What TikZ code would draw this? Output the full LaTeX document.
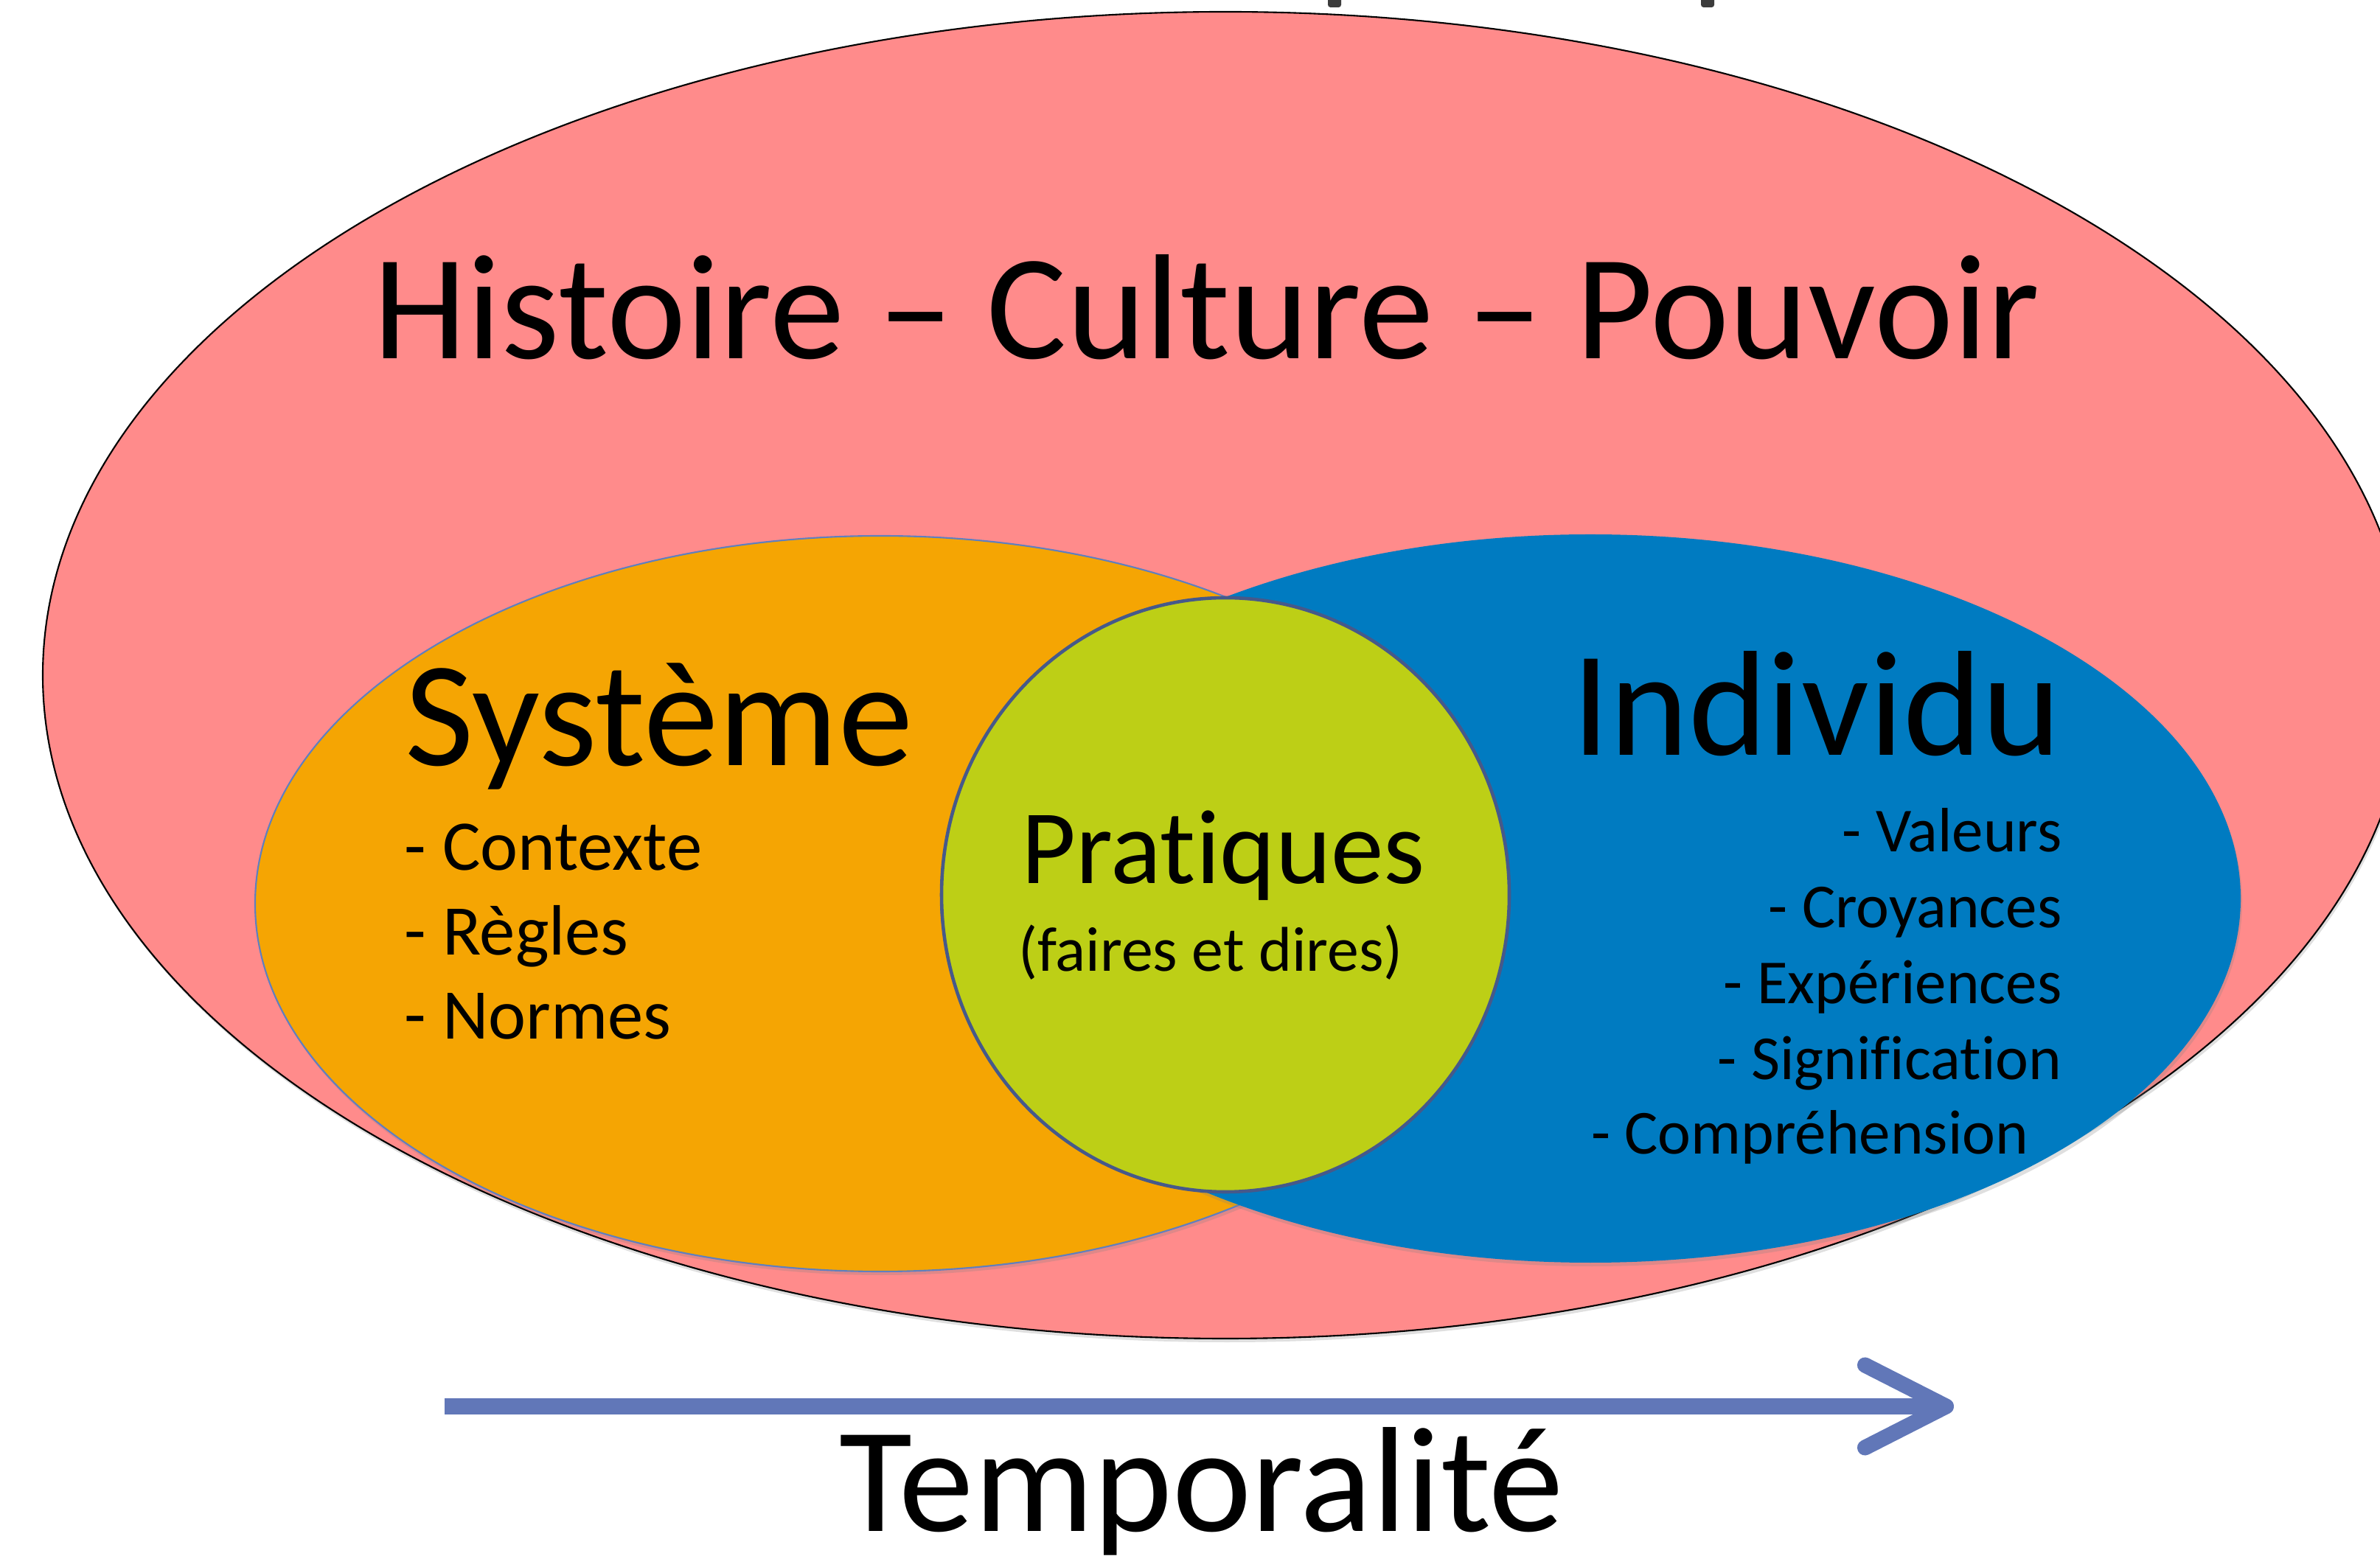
\documentclass[tikz,border=0pt]{standalone}
\usepackage{fontspec}
\setmainfont{Carlito}[Ligatures={NoCommon,NoContextual}]
\usetikzlibrary{shapes.geometric, arrows.meta, positioning, shadows}
\definecolor{histpink}{HTML}{FF8B8B}
\definecolor{sysorange}{HTML}{F5A503}
\definecolor{indblue}{HTML}{007BC1}
\definecolor{pratgreen}{HTML}{BDCF16}
\definecolor{rimblue}{HTML}{46598A}
\definecolor{edgeblue}{HTML}{5F7FBF}
\definecolor{timeblue}{HTML}{6177B8}
\definecolor{cutgray}{HTML}{3C3C3C}

\begin{document}
\begin{tikzpicture}
 % We define the styles for the zones, the texts and the time arrow
 \tikzset{
zone/.style = {ellipse, inner sep=0pt, outer sep=0pt},
softshadow/.style = {drop shadow={opacity=0.25, shadow xshift=0.02cm, shadow yshift=-0.05cm}},
bigtext/.style = {inner sep=0pt, font=\fontsize{57.8}{62}\selectfont},
sysitem/.style = {inner sep=0pt, anchor=base west, font=\fontsize{27.5}{32}\selectfont},
inditem/.style = {inner sep=0pt, anchor=base east, font=\fontsize{24.2}{28}\selectfont},
timeline/.style = {draw=timeblue, line width=6pt, -{Straight Barb[length=1.1cm, width=1.12cm, round]}},
}
 \useasboundingbox (0,0) rectangle (32.28,21.10);
 \clip (0,0) rectangle (32.28,21.10);

 % remains of the cut title
 \fill[cutgray, rounded corners=1pt] (18.01,21.20) rectangle (18.19,21.00);
 \fill[cutgray, rounded corners=1pt] (23.07,21.20) rectangle (23.25,21.00);

 % Outer zone
 \node[zone, softshadow, draw=black, line width=0.6pt, fill=histpink, minimum width=32.08cm, minimum height=18cm] (histoire) at (16.62,11.94) {};
 \node[bigtext, anchor=base] (histlabel) at (16.37,16.23) {Histoire – Culture – Pouvoir};

 % System and individual zones
 \node[zone, softshadow, draw=edgeblue, line width=0.6pt, fill=sysorange, minimum width=16.96cm, minimum height=9.98cm] (systeme) at (11.94,8.84) {};
 \node[zone, softshadow, fill=indblue, minimum width=17.64cm, minimum height=9.88cm] (individu) at (21.57,8.91) {};

 % Practices in the middle
 \node[zone, draw=rimblue, line width=1.3pt, fill=pratgreen, minimum width=7.7cm, minimum height=8.06cm] (pratiques) at (16.62,8.96) {};

 % Labels of the system
 \node[bigtext, anchor=base west] (syslabel) at (5.49,10.71) {Système};
 \node[sysitem] (contexte) at (5.48,9.29) {- Contexte};
 \node[sysitem] (regles) at ([yshift=-1.145cm]contexte.base west) {- Règles};
 \node[sysitem] (normes) at ([yshift=-1.145cm]regles.base west) {- Normes};

 % Labels of the individual
 \node[bigtext, anchor=base east] (indlabel) at (27.96,10.85) {Individu};
 \node[inditem] (valeurs) at (27.97,9.54) {- Valeurs};
 \node[inditem] (croyances) at ([yshift=-1.03cm]valeurs.base east) {- Croyances};
 \node[inditem] (experiences) at ([yshift=-1.03cm]croyances.base east) {- Expériences};
 \node[inditem] (signification) at ([yshift=-1.03cm]experiences.base east) {- Signification};
 \node[inditem] (comprehension) at ([xshift=-0.45cm, yshift=-1.01cm]signification.base east) {- Compréhension};

 % Labels of the practices
 \node[inner sep=0pt, anchor=base, font=\fontsize{40.8}{44}\selectfont] (pratlabel) at (16.59,9.11) {Pratiques};
 \node[inner sep=0pt, anchor=base, font=\fontsize{24.4}{28}\selectfont] (pratsub) at (16.42,7.92) {(faires et dires)};

 % Time arrow and its label
 \coordinate (tstart) at (6.03,2.02);
 \coordinate (tend) at (26.50,2.02);
 \draw [timeline] (tstart) -- (tend);
 \node[bigtext, anchor=base] (templabel) at (16.30,0.33) {Temporalité};

\end{tikzpicture}
\end{document}
